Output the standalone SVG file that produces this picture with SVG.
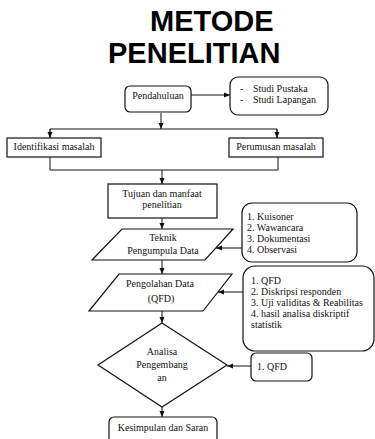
<svg xmlns="http://www.w3.org/2000/svg" width="375" height="439" viewBox="0 0 375 439">
<style>
.bx{fill:#fff;stroke:#111;stroke-width:1.2}
.ln{fill:none;stroke:#111;stroke-width:1}
.t{font-family:"Liberation Serif","Times New Roman","DejaVu Serif",serif;font-size:10px;fill:#111}
.c{text-anchor:middle}
.ttl{font-family:"Liberation Sans",Arial,sans-serif;font-weight:bold;font-size:29px;fill:#000}
</style>
<defs>
<marker id="ah" viewBox="0 0 6 6" refX="6" refY="3" markerWidth="6" markerHeight="6" markerUnits="userSpaceOnUse" orient="auto">
<path d="M0,0.5 L6,3 L0,5.5 Z" fill="#111"/>
</marker>
</defs>
<rect width="375" height="439" fill="#fff"/>
<g id="title">
<text class="ttl" x="150" y="31">METODE</text>
<text class="ttl" x="108" y="63">PENELITIAN</text>
</g>
<g id="connectors">
<line class="ln" x1="191" y1="95" x2="230" y2="95" marker-end="url(#ah)"/>
<line class="ln" x1="161" y1="113" x2="161" y2="129" marker-end="url(#ah)"/>
<polyline class="ln" points="50,138 50,129 277,129 277,138"/>
<line class="ln" x1="50" y1="129" x2="50" y2="138" marker-end="url(#ah)"/>
<line class="ln" x1="277" y1="129" x2="277" y2="138" marker-end="url(#ah)"/>
<polyline class="ln" points="50,157 50,170 278,170 278,157"/>
<line class="ln" x1="162" y1="170" x2="162" y2="184" marker-end="url(#ah)"/>
<line class="ln" x1="162" y1="218" x2="162" y2="229" marker-end="url(#ah)"/>
<line class="ln" x1="242" y1="248" x2="216" y2="248" marker-end="url(#ah)"/>
<line class="ln" x1="162" y1="260" x2="162" y2="274" marker-end="url(#ah)"/>
<line class="ln" x1="243" y1="292" x2="218" y2="292" marker-end="url(#ah)"/>
<line class="ln" x1="162" y1="311" x2="162" y2="323" marker-end="url(#ah)"/>
<line class="ln" x1="251" y1="366" x2="227" y2="366" marker-end="url(#ah)"/>
<line class="ln" x1="162" y1="407" x2="162" y2="417" marker-end="url(#ah)"/>
</g>
<g id="pendahuluan">
<rect class="bx" x="125" y="86" width="66" height="26" rx="5"/>
<text class="t c" x="158" y="99">Pendahuluan</text>
</g>
<g id="studi">
<rect class="bx" x="230" y="77" width="98" height="38" rx="8"/>
<text class="t" x="240" y="92">-</text>
<text class="t" x="253" y="92">Studi Pustaka</text>
<text class="t" x="240" y="103">-</text>
<text class="t" x="253" y="103">Studi Lapangan</text>
</g>
<g id="identifikasi">
<rect class="bx" x="7" y="138" width="94" height="19"/>
<text class="t c" x="54" y="150">Identifikasi masalah</text>
</g>
<g id="perumusan">
<rect class="bx" x="229" y="138" width="94" height="19"/>
<text class="t c" x="276" y="150">Perumusan masalah</text>
</g>
<g id="tujuan">
<rect class="bx" x="108" y="184" width="109" height="34"/>
<text class="t c" x="162" y="197">Tujuan dan manfaat</text>
<text class="t c" x="162" y="208">penelitian</text>
</g>
<g id="teknik">
<polygon class="bx" points="122,229 233,229 205,260 92,260"/>
<text class="t c" x="163" y="241">Teknik</text>
<text class="t c" x="163" y="254">Pengumpula Data</text>
</g>
<g id="kuisoner">
<rect class="bx" x="242" y="203" width="115" height="59" rx="10"/>
<text class="t" x="247" y="220">1. Kuisoner</text>
<text class="t" x="247" y="231">2. Wawancara</text>
<text class="t" x="247" y="242">3. Dokumentasi</text>
<text class="t" x="247" y="253">4. Observasi</text>
</g>
<g id="pengolahan">
<polygon class="bx" points="119,274 232,274 203,311 89,311"/>
<text class="t c" x="160" y="287">Pengolahan Data</text>
<text class="t c" x="161" y="302">(QFD)</text>
</g>
<g id="qfdlist">
<rect class="bx" x="243" y="266" width="131" height="85" rx="12"/>
<text class="t" x="251" y="284">1. QFD</text>
<text class="t" x="251" y="295">2. Diskripsi responden</text>
<text class="t" x="251" y="306">3. Uji validitas &amp; Reabilitas</text>
<text class="t" x="251" y="317">4. hasil analisa diskriptif</text>
<text class="t" x="251" y="328">statistik</text>
</g>
<g id="analisa">
<polygon class="bx" points="162,323 227,365 162,407 98,365"/>
<text class="t c" x="162" y="355">Analisa</text>
<text class="t c" x="162" y="368">Pengembang</text>
<text class="t c" x="162" y="381">an</text>
</g>
<g id="qfd">
<rect class="bx" x="251" y="353" width="61" height="28" rx="5"/>
<text class="t" x="257" y="370">1. QFD</text>
</g>
<g id="kesimpulan">
<rect class="bx" x="109" y="417" width="108" height="30" rx="5"/>
<text class="t c" x="163" y="431">Kesimpulan dan Saran</text>
</g>
</svg>
